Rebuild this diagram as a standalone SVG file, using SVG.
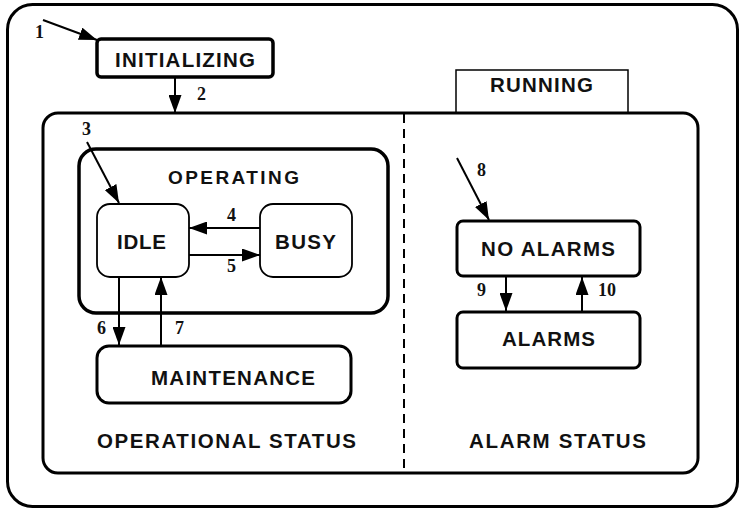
<svg xmlns="http://www.w3.org/2000/svg" width="739" height="509" viewBox="0 0 739 509">
<style>
.t{font-family:"Liberation Sans",Arial,sans-serif;font-weight:bold;font-size:20.5px;fill:#111}
.n{font-family:"Liberation Serif","Times New Roman",serif;font-weight:bold;font-size:18px;fill:#111}
.box{fill:#fff;stroke:#000;stroke-width:3.5}
.thin{fill:#fff;stroke:#000;stroke-width:1.8}
.c{stroke:#000;stroke-width:2;fill:none;marker-end:url(#ah)}
</style>
<defs>
<marker id="ah" markerUnits="userSpaceOnUse" markerWidth="18" markerHeight="13" refX="18" refY="6.5" orient="auto">
<path d="M0,0 L18,6.5 L0,13 z" fill="#000"/>
</marker>
</defs>
<rect width="739" height="509" fill="#fff"/>
<g id="outer"><rect x="7.5" y="4.5" width="730" height="502" rx="25" fill="none" stroke="#000" stroke-width="3"/></g>
<g id="initializing">
<rect class="box" x="97" y="39" width="176" height="38" rx="4"/>
<text class="t" x="115" y="67" textLength="140">INITIALIZING</text>
</g>
<g id="running">
<path d="M456,113 V70 H628 V113" fill="none" stroke="#000" stroke-width="1.5"/>
<text class="t" x="490" y="92" textLength="103">RUNNING</text>
<rect x="43" y="113" width="655" height="360" rx="15" fill="none" stroke="#000" stroke-width="3"/>
<line x1="404" y1="114" x2="404" y2="472" stroke="#000" stroke-width="2" stroke-dasharray="9,6"/>
</g>
<g id="operating">
<rect class="box" x="79" y="149" width="309" height="164" rx="17"/>
<text class="t" x="168" y="184" textLength="131" style="font-size:19px">OPERATING</text>
</g>
<g id="idle">
<rect class="thin" x="97" y="204" width="92" height="73" rx="13"/>
<text class="t" x="117" y="249" textLength="49">IDLE</text>
</g>
<g id="busy">
<rect class="thin" x="260" y="204" width="92" height="73" rx="13"/>
<text class="t" x="275" y="249" textLength="61">BUSY</text>
</g>
<g id="maintenance">
<rect class="box" x="97" y="346" width="254" height="57" rx="12" style="stroke-width:3"/>
<text class="t" x="151" y="385" textLength="164">MAINTENANCE</text>
</g>
<g id="operational-status">
<text class="t" x="97" y="448" textLength="259">OPERATIONAL STATUS</text>
</g>
<g id="no-alarms">
<rect class="box" x="457" y="221" width="183" height="55" rx="6" style="stroke-width:3"/>
<text class="t" x="481" y="256" textLength="134">NO ALARMS</text>
</g>
<g id="alarms">
<rect class="box" x="457" y="312" width="183" height="56" rx="6" style="stroke-width:3"/>
<text class="t" x="502" y="346" textLength="93">ALARMS</text>
</g>
<g id="alarm-status">
<text class="t" x="469" y="448" textLength="177">ALARM STATUS</text>
</g>
<g id="connectors">
<line class="c" x1="43" y1="20" x2="97" y2="40"/>
<line class="c" x1="175" y1="77" x2="175" y2="113"/>
<line class="c" x1="87" y1="142" x2="119" y2="203"/>
<line class="c" x1="260" y1="228" x2="189" y2="228"/>
<line class="c" x1="189" y1="255" x2="260" y2="255"/>
<line class="c" x1="119" y1="277" x2="119" y2="345"/>
<line class="c" x1="161" y1="345" x2="161" y2="277"/>
<line class="c" x1="457" y1="158" x2="489" y2="220"/>
<line class="c" x1="506" y1="276" x2="506" y2="311"/>
<line class="c" x1="582" y1="312" x2="582" y2="277"/>
<text class="n" x="35" y="38">1</text>
<text class="n" x="197" y="100">2</text>
<text class="n" x="82" y="135">3</text>
<text class="n" x="227" y="221">4</text>
<text class="n" x="227" y="272">5</text>
<text class="n" x="97" y="334">6</text>
<text class="n" x="175" y="334">7</text>
<text class="n" x="477" y="176">8</text>
<text class="n" x="477" y="296">9</text>
<text class="n" x="598" y="296">10</text>
</g>
</svg>
